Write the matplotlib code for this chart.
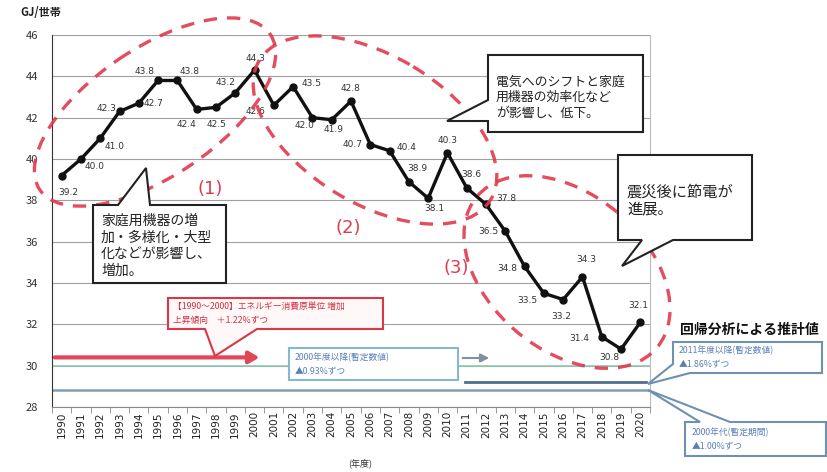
import matplotlib
matplotlib.use('Agg')
import matplotlib.pyplot as plt
from matplotlib.patches import Ellipse, Polygon

plt.rcParams['font.family'] = ['Noto Sans CJK JP', 'DejaVu Sans']

# ---------------- data ----------------
years = ['1990', '1991', '1992', '1993', '1994', '1995', '1996', '1997', '1998', '1999',
         '2000', '2001', '2002', '2003', '2004', '2005', '2006', '2007', '2008', '2009',
         '2010', '2011', '2012', '2013', '2014', '2015', '2016', '2017', '2018', '2019', '2020']
values = [39.2, 40.0, 41.0, 42.3, 42.7, 43.8, 43.8, 42.4, 42.5, 43.2,
          44.3, 42.6, 43.5, 42.0, 41.9, 42.8, 40.7, 40.4, 38.9, 38.1,
          40.3, 38.6, 37.8, 36.5, 34.8, 33.5, 33.2, 34.3, 31.4, 30.8, 32.1]
y_ticks = [28, 30, 32, 34, 36, 38, 40, 42, 44, 46]

# reference lines (value, x-start index, x-end index)
red_arrow_level = 30.4
red_arrow_span = (-0.5, 10.4)
teal_line_level = 30.0
grey_line_level = 28.8
blue_line_level = 29.2
blue_line_span = (20.9, 30.3)

# label offsets (pixels) for the value labels
label_offsets = [(7, -17), (14, -7), (14, -8), (-13, 3), (15, 0), (-14, 9), (12, 9), (-10, -15),
                 (1, -17), (-10, 10), (1, 12), (-18, -6), (18, 3), (-8, -8), (2, -10), (0, 13),
                 (-18, 0), (17, 3), (8, 13), (6, -10), (0, 12), (5, 13), (20, 6), (-17, 0),
                 (-17, -2), (-17, -7), (-2, -17), (4, 17), (-22, -2), (-12, -8), (-2, 17)]

fig = plt.figure(figsize=(8.27, 4.72), dpi=100)
ax = fig.add_axes([52 / 827, 1 - 407 / 472, (650 - 52) / 827, (407 - 35) / 472])

x = list(range(len(years)))
ax.set_xlim(-0.5, len(years) - 0.5)
ax.set_ylim(28, 46)
ax.set_yticks(y_ticks)
ax.set_yticklabels([str(v) for v in y_ticks], fontsize=8, color='#333333')
ax.yaxis.grid(True, color='#a0a0a0', lw=0.8)
ax.set_axisbelow(True)
ax.tick_params(axis='y', length=0, pad=10)
ax.set_xticks(x)
ax.set_xticklabels(years, rotation=90, fontsize=7.5, color='#222222', family='DejaVu Sans')
ax.set_xticks([i - 0.5 for i in range(len(years) + 1)], minor=True)
ax.tick_params(axis='x', which='major', length=0, pad=3)
ax.tick_params(axis='x', which='minor', length=4, color='#888888')
for s in ['top']:
    ax.spines[s].set_visible(False)
ax.spines['right'].set_color('#bbbbbb')
ax.spines['left'].set_color('#333333')
ax.spines['bottom'].set_color('#888888')

# reference lines
ax.axhline(teal_line_level, color='#8fc8b8', lw=1.2, zorder=1)
ax.axhline(grey_line_level, color='#7f9fb8', lw=1.8, zorder=1)
ax.plot(blue_line_span, [blue_line_level, blue_line_level], color='#4f6f8f', lw=2, zorder=1)
ax.annotate('', xy=(red_arrow_span[1], red_arrow_level), xytext=(red_arrow_span[0], red_arrow_level),
            arrowprops=dict(arrowstyle='-|>,head_length=0.6,head_width=0.35', color='#e04858', lw=3),
            zorder=2)

# main series
ax.plot(x, values, color='#111111', lw=2.4, marker='o', ms=5, zorder=4)
for xi, v, (dx, dy) in zip(x, values, label_offsets):
    ax.annotate(f'{v:.1f}', (xi, v), xytext=(dx, dy), textcoords='offset pixels',
                ha='center', va='center', fontsize=6.5, color='#333333',
                family='DejaVu Sans', zorder=5)

# ---------------- overlay (pixel coordinates) ----------------
ov = fig.add_axes([0, 0, 1, 1])
ov.set_xlim(0, 827)
ov.set_ylim(472, 0)
ov.axis('off')
ov.patch.set_alpha(0)
ov.set_zorder(5)

red = '#e03a4c'
for (cx, cy, w, h, ang) in [(155, 112, 278, 128, -34), (375, 130, 270, 148, 31), (567, 272, 235, 156, 40)]:
    ov.add_patch(Ellipse((cx, cy), w, h, angle=ang, fill=False, ec=red, lw=2.4,
                         ls=(0, (4, 3)), alpha=0.9))

ov.text(210, 189, '(1)', color=red, fontsize=13, ha='center', va='center', family='DejaVu Sans')
ov.text(348, 228, '(2)', color=red, fontsize=13, ha='center', va='center', family='DejaVu Sans')
ov.text(456, 268, '(3)', color=red, fontsize=13, ha='center', va='center', family='DejaVu Sans')


def bubble(verts, ec='#222222', lw=1.5, fc='white'):
    ov.add_patch(Polygon(verts, closed=True, fc=fc, ec=ec, lw=lw, joinstyle='miter'))


# box A
bubble([(93, 205), (118, 205), (146, 168), (150, 205), (226, 205), (226, 283), (93, 283)])
for i, t in enumerate(['家庭用機器の増', '加・多様化・大型', '化などが影響し、', '増加。']):
    ov.text(101, 221 + i * 16.5, t, fontsize=10, ha='left', va='center', color='#222222')

# box B
bubble([(488, 55), (643, 55), (643, 132), (488, 132), (488, 121), (447, 121), (488, 100)])
for i, t in enumerate(['電気へのシフトと家庭', '用機器の効率化など', 'が影響し、低下。']):
    ov.text(496, 82 + i * 15.5, t, fontsize=9.3, ha='left', va='center', color='#222222')

# box C
bubble([(618, 155), (752, 155), (752, 240), (673, 240), (622, 266), (642, 240), (618, 240)])
for i, t in enumerate(['震災後に節電が', '進展。']):
    ov.text(627, 192 + i * 18, t, fontsize=11, ha='left', va='center', color='#222222')

# red box
bubble([(168, 298), (383, 298), (383, 329), (257, 329), (215, 356), (205, 329), (168, 329)],
       ec='#d83848', lw=1.5, fc='#fff8f8')
ov.text(173, 306, '【1990～2000】エネルギー消費原単位 増加', fontsize=6.3, color='#d03040', va='center')
ov.text(173, 320, '上昇傾向　＋1.22%ずつ', fontsize=6.3, color='#d03040', va='center')

# blue box 1 with grey arrow
bubble([(289, 348), (458, 348), (458, 380), (289, 380)], ec='#88b8d0', lw=1.5)
ov.text(295, 357, '2000年度以降(暫定数値)', fontsize=6.3, color='#5a80b8', va='center')
ov.text(295, 372, '▲0.93%ずつ', fontsize=6.3, color='#5a80b8', va='center')
ov.annotate('', xy=(492, 358), xytext=(460, 358),
            arrowprops=dict(arrowstyle='-|>,head_length=0.5,head_width=0.25', color='#8090a0', lw=1.5))

# right side
ov.text(680, 330, '回帰分析による推計値', fontsize=10, fontweight='bold', ha='left', va='center',
        color='#111111')
bubble([(673, 342), (822, 342), (822, 373), (690, 373), (648, 384), (673, 364)], ec='#7090b0', lw=1.5)
ov.text(679, 350, '2011年度以降(暫定数値)', fontsize=6.3, color='#5a80b8', va='center')
ov.text(679, 365, '▲1.86%ずつ', fontsize=6.3, color='#5a80b8', va='center')
bubble([(685, 422), (700, 422), (648, 390), (730, 422), (826, 422), (826, 456), (685, 456)],
       ec='#7090b0', lw=1.5)
ov.text(692, 432, '2000年代(暫定期間)', fontsize=6.3, color='#5a80b8', va='center')
ov.text(692, 447, '▲1.00%ずつ', fontsize=6.3, color='#5a80b8', va='center')

# axis titles
ov.text(20, 13, 'GJ/世帯', fontsize=8, fontweight='bold', ha='left', va='center', color='#222222')
ov.text(360, 463, '(年度)', fontsize=6.5, ha='center', va='center', color='#333333')

fig.savefig('out.png', dpi=100)
